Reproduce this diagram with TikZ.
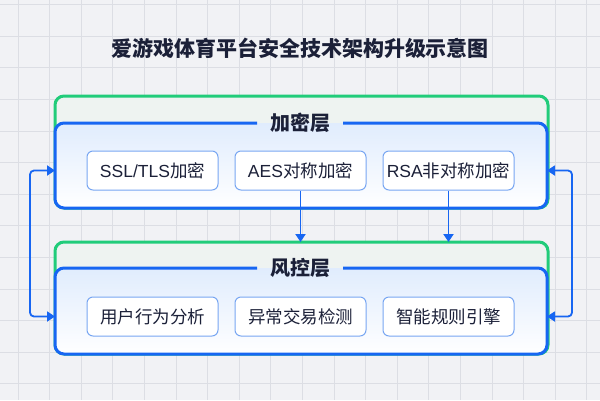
\documentclass[tikz,border=0pt]{standalone}
\usepackage{fontspec}
\setmainfont{Noto Sans CJK SC}
\newfontfamily\lat{Liberation Sans}
\usetikzlibrary{arrows.meta}
\definecolor{bg}{HTML}{F1F2F5}
\definecolor{gridc}{HTML}{DCDEE4}
\definecolor{blueL}{HTML}{1766F2}
\definecolor{greenL}{HTML}{21CC7A}
\definecolor{boxB}{HTML}{78A6F2}
\definecolor{txt}{HTML}{1B2038}
\definecolor{topfill}{HTML}{E0ECFD}
\definecolor{gfill}{HTML}{EEF3F1}
\tikzset{
  greenbox/.style={draw=greenL, line width=3pt, fill=gfill, rounded corners=9pt, inner sep=0pt, outer sep=0pt, anchor=north west, minimum width=493pt},
  bluebox/.style={top color=topfill, bottom color=white, rounded corners=9pt, inner sep=0pt, outer sep=0pt, anchor=north west, minimum width=492pt},
  blueedge/.style={draw=blueL, line width=3pt, rounded corners=9pt},
  layertitle/.style={text=txt, inner xsep=13pt, inner ysep=0pt, outer sep=0pt, font=\fontsize{20}{24}\selectfont\bfseries},
  itembox/.style={draw=boxB, line width=1pt, fill=white, rounded corners=6pt, minimum width=131pt, minimum height=39pt, inner sep=0pt, text=txt, font=\fontsize{17.5}{20}\selectfont},
  arr/.style={draw=blueL, line width=1.8pt, -{Triangle[length=8pt,width=10pt]}},
  darr/.style={draw=blueL, line width=1.8pt, rounded corners=4pt, {Triangle[length=8pt,width=10pt]}-{Triangle[length=8pt,width=10pt]}}
}
\begin{document}
\begin{tikzpicture}[x=1pt,y=-1pt]
\fill[bg] (0,0) rectangle (600,400);
\useasboundingbox (0,0) rectangle (600,400);
\foreach \i in {0,...,18} {\draw[gridc, line width=0.8pt] (18+31.6*\i,0) -- (18+31.6*\i,400);}
\foreach \i in {0,...,12} {\draw[gridc, line width=0.8pt] (0,4.5+31.6*\i) -- (600,4.5+31.6*\i);}
\node[text=txt, font=\fontsize{21}{25}\selectfont\bfseries] (title) at (300,48) {爱游戏体育平台安全技术架构升级示意图};
% layer 1
\node[greenbox, minimum height=112pt] (G1) at (55,96) {};
\node[bluebox, minimum height=85pt] (L1) at (55,123) {};
\node[layertitle] (T1) at (300,123) {加密层};
\draw[blueedge] (T1.west |- L1.north) -- (L1.north west) -- (L1.south west) -- (L1.south east) -- (L1.north east) -- (T1.east |- L1.north);
\node[itembox] (ssl) at (152.5,170.5) {{\lat SSL/TLS}加密};
\node[itembox] (aes) at (300.5,170.5) {{\lat AES}对称加密};
\node[itembox] (rsa) at (448.5,170.5) {{\lat RSA}非对称加密};
% layer 2
\node[greenbox, minimum height=112pt] (G2) at (55,242) {};
\node[bluebox, minimum height=86pt] (L2) at (55,268) {};
\node[layertitle] (T2) at (300,268) {风控层};
\draw[blueedge] (T2.west |- L2.north) -- (L2.north west) -- (L2.south west) -- (L2.south east) -- (L2.north east) -- (T2.east |- L2.north);
\node[itembox] (usr) at (152.5,316.5) {用户行为分析};
\node[itembox] (abn) at (300.5,316.5) {异常交易检测};
\node[itembox] (rule) at (448.5,316.5) {智能规则引擎};
% arrows
\draw[arr] (aes.south) -- (aes.south |- G2.north);
\draw[arr] (rsa.south) -- (rsa.south |- G2.north);
\coordinate (lx) at (30,0);
\coordinate (rx) at (572,0);
\draw[darr] (L1.west |- ssl) -- (lx |- ssl) -- (lx |- usr) -- (L2.west |- usr);
\draw[darr] (L1.east |- rsa) -- (rx |- rsa) -- (rx |- rule) -- (L2.east |- rule);
\end{tikzpicture}
\end{document}
